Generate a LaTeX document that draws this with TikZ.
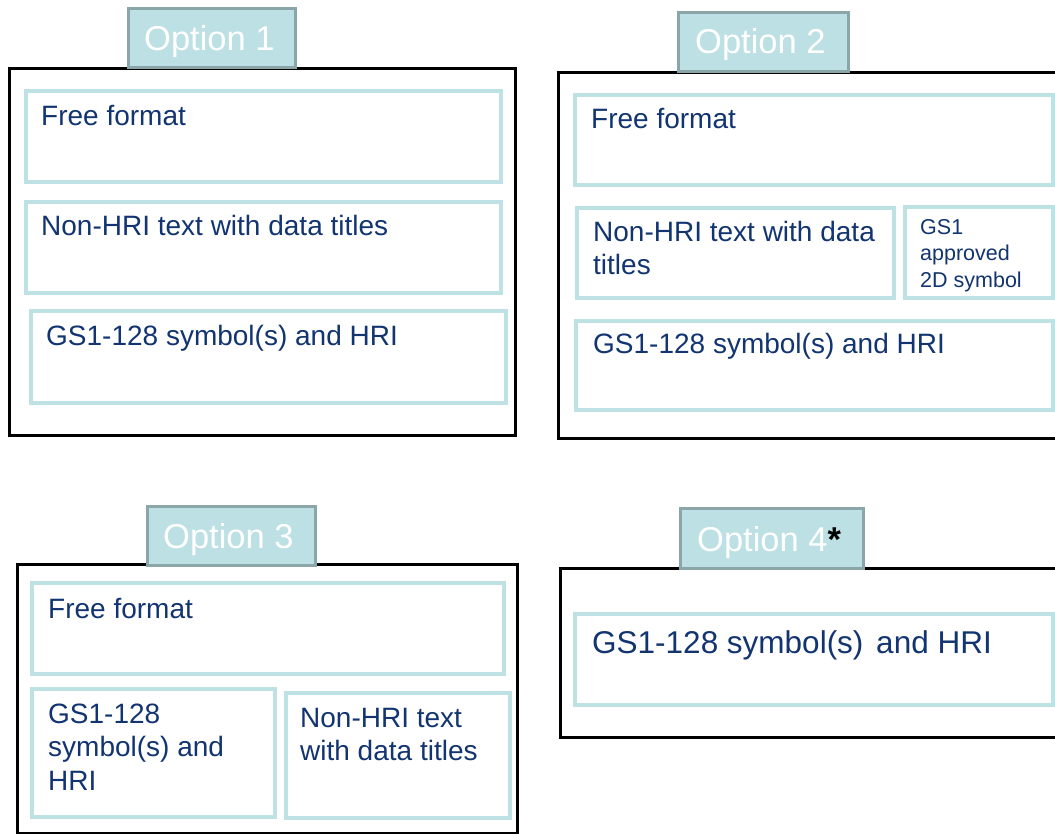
\documentclass[tikz,border=0pt]{standalone}
\usepackage{fontspec}
\setmainfont{Liberation Sans}
\definecolor{navy}{RGB}{18,52,112}
\definecolor{tabfill}{RGB}{188,224,227}
\definecolor{tabedge}{RGB}{138,166,169}
\definecolor{inedge}{RGB}{190,225,228}
\begin{document}
\begin{tikzpicture}[x=1pt,y=-1pt,
  outerbox/.style={draw=black,line width=3pt},
  innerbox/.style={draw=inedge,line width=3.3pt},
  tabbox/.style={draw=tabedge,fill=tabfill,line width=3pt},
  tabtext/.style={text=white,font=\fontsize{34.5}{40}\selectfont,anchor=base west,inner sep=0pt},
  lbl/.style={text=navy,font=\fontsize{28}{33.5}\selectfont,anchor=base west,inner sep=0pt},
  smalllbl/.style={text=navy,font=\fontsize{21.5}{26.5}\selectfont,anchor=base west,inner sep=0pt},
  biglbl/.style={text=navy,font=\fontsize{31.5}{37}\selectfont,anchor=base west,inner sep=0pt}]
\useasboundingbox (0,0) rectangle (1055,833);
\clip (0,0) rectangle (1055,833);
\fill[white] (0,0) rectangle (1055,833);

% ---------- Option 1
\draw[outerbox] (9,68) rectangle (515,435);
\draw[innerbox] (26,91) rectangle (501,182);
\draw[innerbox] (26,202) rectangle (501,293);
\draw[innerbox] (31,311) rectangle (506,403);
\draw[tabbox] (128,8) rectangle (295,67);
\node[tabtext] (t1) at (144,50) {Option 1};
\node[lbl] (a1) at (41,125) {Free format};
\node[lbl] (b1) at (41,235) {Non-HRI text with data titles};
\node[lbl] (c1) at (46,345) {GS1-128 symbol(s) and HRI};

% ---------- Option 2
\draw[outerbox] (558,72) rectangle (1070,438);
\draw[innerbox] (575,95) rectangle (1053,185);
\draw[innerbox] (577,208) rectangle (894,298);
\draw[innerbox] (905,207) rectangle (1053,298);
\draw[innerbox] (576,321) rectangle (1053,410);
\draw[tabbox] (678,12) rectangle (848,71);
\node[tabtext] (t2) at (695,53) {Option 2};
\node[lbl] (a2) at (591,128) {Free format};
\node[lbl] (b2) at (593,241) {\begin{tabular}[t]{@{}l@{}}Non-HRI text with data\\titles\end{tabular}};
\node[smalllbl] (d2) at (920,234) {\begin{tabular}[t]{@{}l@{}}GS1\\approved\\2D symbol\end{tabular}};
\node[lbl] (c2) at (593,353) {GS1-128 symbol(s) and HRI};

% ---------- Option 3
\draw[outerbox] (17,564) rectangle (517,833);
\draw[innerbox] (32,583) rectangle (504,674);
\draw[innerbox] (32,689) rectangle (275,817);
\draw[innerbox] (286,693) rectangle (510,818);
\draw[tabbox] (147,506) rectangle (315,565);
\node[tabtext] (t3) at (163,548) {Option 3};
\node[lbl] (a3) at (48,618) {Free format};
\node[lbl] (c3) at (48,723) {\begin{tabular}[t]{@{}l@{}}GS1-128\\symbol(s) and\\HRI\end{tabular}};
\node[lbl] (b3) at (300,727) {\begin{tabular}[t]{@{}l@{}}Non-HRI text\\with data titles\end{tabular}};

% ---------- Option 4
\draw[outerbox] (560,568) rectangle (1070,737);
\draw[innerbox] (575,614) rectangle (1053,705);
\draw[tabbox] (680,508) rectangle (863,568);
\node[tabtext] (t4) at (697,551) {Option 4\textcolor{black}{\textbf{*}}};
\node[biglbl] (c4) at (592,653) {GS1-128 symbol(s)\hspace{4pt} and HRI};
\end{tikzpicture}
\end{document}
